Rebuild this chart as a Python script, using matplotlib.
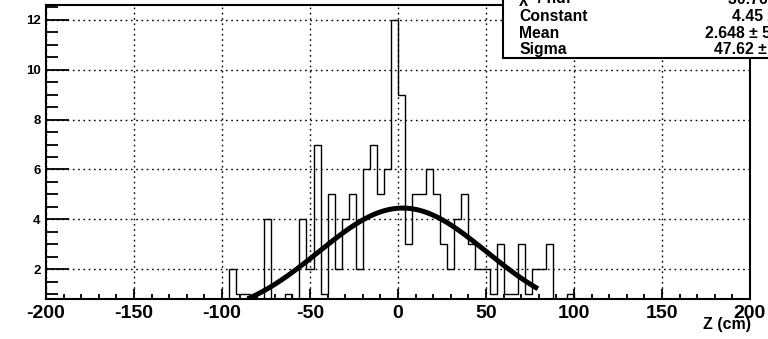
#!/usr/bin/env python3
# -*- coding: utf-8 -*-

# +
# import(s)
# -
import numpy as np
import matplotlib
matplotlib.use('Agg')
import matplotlib.pyplot as plt
from matplotlib.patches import Rectangle
from matplotlib.ticker import MultipleLocator


# +
# data: Z histogram, 4 cm bins, non-empty range starts at -96 cm
# -
BIN_WIDTH = 4
Z_MIN, Z_MAX = -200, 200
FIRST_EDGE = -96
COUNTS = [2, 1, 1, 0, 0, 4, 0, 0, 1, 0,
          4, 2, 7, 1, 5, 2, 4, 5, 2, 6,
          7, 5, 6, 12, 9, 3, 5, 5, 6, 5,
          3, 2, 4, 5, 3, 2, 2, 1, 3, 1,
          1, 3, 1, 2, 2, 3, 0, 0, 1]

# gaussian fit result
FIT_CONSTANT = 4.45
FIT_MEAN = 2.648
FIT_SIGMA = 47.62
FIT_RANGE = (-85.5, 79.5)

X_TICKS = [-200, -150, -100, -50, 0, 50, 100, 150, 200]
Y_TICKS = [2, 4, 6, 8, 10, 12]

STATS_ROWS = [
    ('\u03c7\u00b2 / ndf', '30.76 / 36'),
    ('Constant', '4.45 \u00b1 0.52'),
    ('Mean', '2.648 \u00b1 5.028'),
    ('Sigma', '47.62 \u00b1 4.91'),
]


# +
# function: plot_z()
# -
def plot_z(_output='out.png'):

    plt.rcParams['font.family'] = ['Liberation Sans', 'DejaVu Sans']
    plt.rcParams['font.weight'] = 'bold'

    fig = plt.figure(figsize=(7.68, 3.39), dpi=100)
    ax = fig.add_axes([46/768, 1-299/339, 704/768, 294/339])

    # histogram outline
    edges = np.arange(Z_MIN, Z_MAX + BIN_WIDTH, BIN_WIDTH)
    values = np.zeros(len(edges) - 1)
    i0 = int((FIRST_EDGE - Z_MIN) / BIN_WIDTH)
    values[i0:i0 + len(COUNTS)] = COUNTS
    ax.stairs(values, edges, color='black', lw=1.0, zorder=3)

    # fit curve
    x = np.linspace(FIT_RANGE[0], FIT_RANGE[1], 300)
    y = FIT_CONSTANT * np.exp(-0.5 * ((x - FIT_MEAN) / FIT_SIGMA) ** 2)
    ax.plot(x, y, color='black', lw=3.6, zorder=4, solid_capstyle='butt')

    ax.set_xlim(Z_MIN, Z_MAX)
    ax.set_ylim(0.8, 12.6)
    ax.set_xticks(X_TICKS)
    ax.set_yticks(Y_TICKS)
    ax.xaxis.set_minor_locator(MultipleLocator(10))
    ax.yaxis.set_minor_locator(MultipleLocator(0.5))
    ax.set_xticklabels([str(t) for t in X_TICKS], fontsize=14, fontweight='bold')
    ax.set_yticklabels([str(t) for t in Y_TICKS], fontsize=9.5, fontweight='bold')

    ax.tick_params(axis='x', which='major', direction='in', length=7.3, width=1.3, pad=4)
    ax.tick_params(axis='x', which='minor', direction='in', length=3.6, width=1.3)
    ax.tick_params(axis='y', which='major', direction='in', length=16.5, width=1.3, pad=4)
    ax.tick_params(axis='y', which='minor', direction='in', length=8.3, width=1.3)

    for s in ax.spines.values():
        s.set_linewidth(1.5)

    ax.grid(True, which='major', color='black', lw=1.0, linestyle=(0, (1.2, 2.6)))
    ax.set_axisbelow(True)

    # axis title
    fig.text(751/768, 1-329/339, 'Z (cm)', ha='right', va='baseline',
             fontsize=11.5, fontweight='bold')

    # stats box
    box = Rectangle((503/768, 1-58/339), 1.0, 1.0, transform=fig.transFigure,
                    facecolor='white', edgecolor='black', lw=1.5, zorder=5,
                    clip_on=False)
    fig.add_artist(box)
    baselines = [3.5, 20.7, 37.8, 54.3]
    value_x = [728, 732, 705, 714]
    for (name, val), yb, vx in zip(STATS_ROWS, baselines, value_x):
        fig.text(519/768, 1-yb/339, name, ha='left', va='baseline',
                 fontsize=11.3, fontweight='bold', zorder=6)
        fig.text(vx/768, 1-yb/339, val, ha='left', va='baseline',
                 fontsize=11.3, fontweight='bold', zorder=6)

    fig.savefig(_output, dpi=100)
    plt.close(fig)


# +
# main()
# -
if __name__ == '__main__':
    plot_z()
